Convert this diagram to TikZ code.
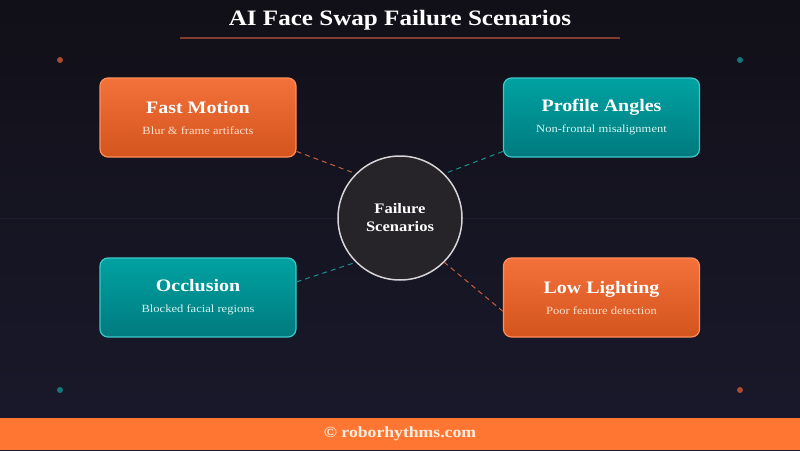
\documentclass[tikz,border=0pt]{standalone}
\usepackage{fontspec}
\setmainfont{Liberation Serif}[FakeStretch=1.14]
\usetikzlibrary{positioning, backgrounds}
\definecolor{bgtop}{RGB}{17, 16, 24}
\definecolor{bgbot}{RGB}{26, 25, 44}
\definecolor{rrorange}{RGB}{255, 118, 50}
\definecolor{hottop}{RGB}{243, 113, 58}
\definecolor{hotbot}{RGB}{212, 84, 30}
\definecolor{hotedge}{RGB}{255, 142, 92}
\definecolor{hotsub}{RGB}{255, 222, 200}
\definecolor{cooltop}{RGB}{0, 162, 162}
\definecolor{coolbot}{RGB}{0, 122, 126}
\definecolor{cooledge}{RGB}{62, 200, 200}
\definecolor{coolsub}{RGB}{214, 244, 242}
\definecolor{hubfill}{RGB}{38, 36, 40}
\definecolor{hubedge}{RGB}{215, 212, 215}
\definecolor{rulebrown}{RGB}{128, 62, 46}
\definecolor{dothot}{RGB}{168, 76, 50}
\definecolor{dotcool}{RGB}{22, 118, 124}
\definecolor{linkhot}{RGB}{196, 96, 62}
\definecolor{linkcool}{RGB}{28, 140, 140}
\newcommand{\cardtext}[3]{{\fontsize{17.5}{20}\selectfont\bfseries #1}\\[9pt]{\fontsize{11}{13}\selectfont\color{#3}#2}}

\begin{document}
\begin{tikzpicture}[x=1pt, y=-1pt,
    card/.style={rounded corners=8pt, minimum width=196pt, minimum height=79pt,
      line width=1.2pt, align=center, inner sep=0pt, text=white},
    hotcard/.style={card, draw=hotedge, top color=hottop, bottom color=hotbot},
    coolcard/.style={card, draw=cooledge, top color=cooltop, bottom color=coolbot},
    link/.style={line width=1pt, dash pattern=on 5pt off 4pt}]
      \useasboundingbox (0,0) rectangle (800,450);
      \shade[top color=bgtop, bottom color=bgbot] (0,0) rectangle (800,450);
      \draw[white, opacity=0.04] (0,218) -- (800,218);
      % corner dots
      \fill[dothot] (60,60) circle (3pt);
      \fill[dotcool] (740,60) circle (3pt);
      \fill[dotcool] (60,390) circle (3pt);
      \fill[dothot] (740,390) circle (3pt);
      % title
      \node[text=white, font=\fontsize{22}{26}\selectfont\bfseries] (title) at (400,20) {AI Face Swap Failure Scenarios};
      \draw[rulebrown, line width=2pt] (180,38) -- (620,38);
      % hub and cards
      \node[circle, minimum size=124pt, inner sep=0pt, fill=hubfill, draw=hubedge, line width=1.5pt,
        text=white, align=center, font=\fontsize{14.5}{18}\selectfont\bfseries] (hub) at (400,218) {Failure\\Scenarios};
      \node[hotcard] (fast) at (198,117.5) {\cardtext{Fast Motion}{Blur \& frame artifacts}{hotsub}};
      \node[coolcard] (profile) at (601.5,117.5) {\cardtext{Profile Angles}{Non-frontal misalignment}{coolsub}};
      \node[coolcard] (occlusion) at (198,297.5) {\cardtext{Occlusion}{Blocked facial regions}{coolsub}};
      \node[hotcard] (lowlight) at (601.5,297.5) {\cardtext{Low Lighting}{Poor feature detection}{hotsub}};
      \draw[link, linkhot] (fast.-19) -- (hub.135);
      \draw[link, linkcool] (profile.199) -- (hub.45);
      \draw[link, linkcool] (occlusion.9) -- (hub.225);
      \draw[link, linkhot] (lowlight.188) -- (hub.-45);
      % footer
      \fill[rrorange] (0,418) rectangle (800,450);
      \node[text={rgb,255:red,255;green,238;blue,224}, font=\fontsize{15.5}{18}\selectfont\bfseries] (credit) at (400,434) {\copyright{} roborhythms.com};
    \end{tikzpicture}
\end{document}
